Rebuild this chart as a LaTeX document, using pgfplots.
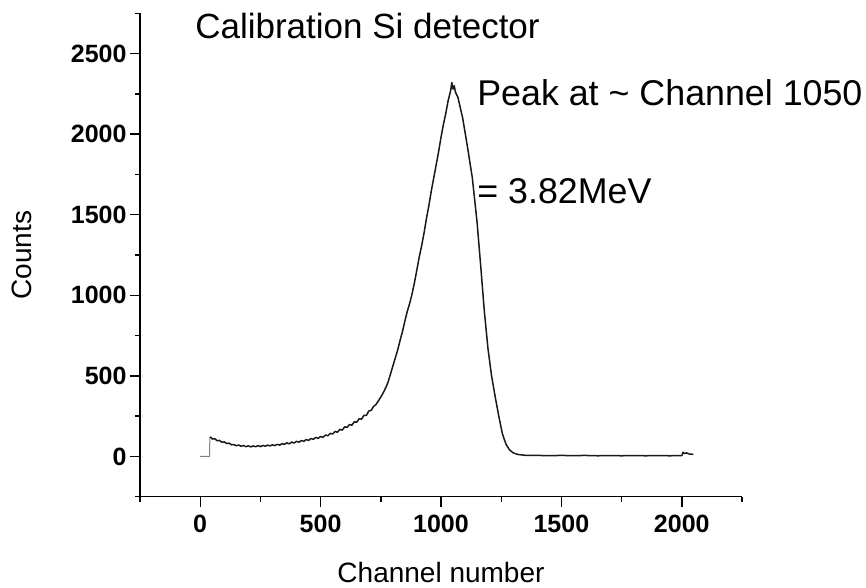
\documentclass[border=0pt]{standalone}
\usepackage{fontspec}
\setmainfont{Liberation Sans}
\usepackage{pgfplots}
\pgfplotsset{compat=1.18}
\begin{document}
\begin{tikzpicture}[x=1pt,y=1pt]
\useasboundingbox (-140pt,-91.3pt) rectangle (726pt,496.7pt);
\begin{axis}[
  scale only axis,
  width=602pt, height=483.4pt,
  xmin=-250, xmax=2250, ymin=-250, ymax=2750,
  axis lines*=left,
  axis line style={-, line width=1.4pt},
  every tick/.style={line width=1.4pt, black},
  tick align=outside,
  major tick length=10pt,
  minor tick length=5pt,
  xtick={0,500,1000,1500,2000},
  ytick={0,500,1000,1500,2000,2500},
  minor xtick={-250,250,750,1250,1750,2250},
  minor ytick={-250,250,750,1250,1750,2250,2750},
  /pgf/number format/assume math mode=true,
  /pgf/number format/set thousands separator={},
  ticklabel style={font=\fontsize{25}{30}\selectfont\bfseries},
  xticklabel style={yshift=-5pt},
  xlabel={Channel number},
  ylabel={Counts},
  label style={font=\fontsize{28}{33}\selectfont},
  xlabel style={at={(axis description cs:0.5,-0.178)}, anchor=base, inner sep=0pt},
  ylabel style={at={(axis description cs:-0.196,0.5)}, anchor=center},
  clip=false,
]
\addplot[gray, line width=1pt] coordinates {(0,0) (39,0) (40,120)};
\addplot[black!90, line width=1.5pt, line join=round] coordinates {
(40,120) (45,118) (50,108) (60,110) (70,98) (80,99) (90,88) (100,90)
(110,80) (120,82) (130,72) (140,74) (150,66) (160,71) (170,63) (180,68)
(190,60) (200,66) (210,59) (220,65) (230,60) (240,67) (250,61) (260,68)
(270,63) (280,70) (290,65) (300,72) (310,67) (320,75) (330,70) (340,79)
(350,75) (360,84) (370,78) (380,89) (390,83) (400,94) (410,88) (420,99)
(430,93) (440,105) (450,99) (460,111) (470,106) (480,118) (490,112)
(500,124) (510,118) (520,133) (530,128) (540,143) (550,139) (560,155)
(570,150) (580,168) (590,163) (600,184) (610,180) (620,198) (630,194)
(640,215) (650,212) (660,234) (670,231) (680,255) (690,254) (700,282)
(710,286) (720,310) (730,322) (740,345) (750,368) (760,395) (770,425)
(780,460) (790,510) (800,560) (810,610) (820,660) (830,720) (840,775)
(850,840) (860,900) (870,950) (880,1010) (890,1080) (900,1160)
(910,1240) (920,1310) (930,1390) (940,1480) (950,1560) (960,1650)
(970,1730) (980,1810) (990,1890) (1000,1980) (1010,2060) (1020,2130)
(1030,2210) (1040,2270) (1045,2320) (1050,2280) (1055,2300) (1060,2260)
(1070,2230) (1090,2100) (1110,1920) (1130,1730) (1150,1450) (1165,1180)
(1180,900) (1195,670) (1210,500) (1225,370) (1240,250) (1255,140)
(1270,75) (1285,40) (1300,22) (1320,12) (1350,7) (1400,6) (1450,5)
(1500,6) (1550,5) (1600,6) (1650,4) (1700,5) (1750,4) (1800,5)
(1850,4) (1900,5) (1950,4) (2000,5) (2005,25) (2012,18) (2020,22)
(2030,15) (2040,14) (2048,12)
};
\node[anchor=base west, inner sep=0pt, font=\fontsize{35}{40}\selectfont]
  at (axis cs:-21,2596) {Calibration Si detector};
\node[anchor=base west, inner sep=0pt, font=\fontsize{35.8}{40}\selectfont]
  at (axis cs:1150,2180) {Peak at \char`\~{} Channel 1050};
\node[anchor=base west, inner sep=0pt, font=\fontsize{35.8}{40}\selectfont]
  at (axis cs:1150,1570) {= 3.82MeV};
\end{axis}
\end{tikzpicture}
\end{document}
